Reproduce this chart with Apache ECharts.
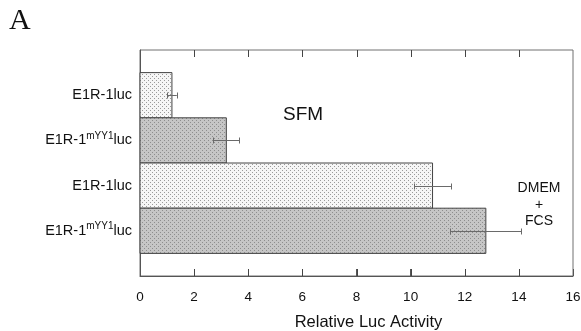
<!DOCTYPE html>
<html>
<head>
<meta charset="utf-8">
<script src="https://cdn.jsdelivr.net/npm/echarts@6/dist/echarts.min.js"></script>
<style>
  html, body { margin: 0; padding: 0; background: #fff; }
  #chart { width: 581px; height: 331px; }
</style>
</head>
<body>
<div id="chart"></div>
<script>
// data (top row first)
var constructs = ['E1R-1luc', 'E1R-1|mYY1|luc', 'E1R-1luc', 'E1R-1|mYY1|luc'];
var activity = [1.18, 3.19, 10.81, 12.78];
var errors = [0.18, 0.48, 0.68, 1.31];
var ticks = [0, 2, 4, 6, 8, 10, 12, 14, 16];

// stipple fill patterns
function stipple(bg, dot, step) {
  var c = document.createElement('canvas');
  c.width = step * 2; c.height = step * 2;
  var g = c.getContext('2d');
  g.fillStyle = bg; g.fillRect(0, 0, c.width, c.height);
  g.fillStyle = dot;
  g.fillRect(0, 0, 1, 1);
  g.fillRect(step, step, 1, 1);
  return c;
}
var lightFill = { image: stipple('#f6f6f6', '#9a9a9a', 2), repeat: 'repeat' };
var darkFill = { image: stipple('#c6c6c6', '#8e8e8e', 2), repeat: 'repeat' };

var chart = echarts.init(document.getElementById('chart'));
var font = 'Liberation Sans, Arial, sans-serif';

// rows sit at y = 3..0 (top to bottom) on a value axis running -1..4
var nRows = constructs.length;
var yMin = -1, yMax = 4;
function rowY(i) { return nRows - 1 - i; }
var barData = activity.map(function (v, i) { return [v, rowY(i), i]; });
var errData = activity.map(function (v, i) { return [v - errors[i], v + errors[i], rowY(i)]; });
var tickData = ticks.slice(1, -1).map(function (t) { return [t, yMin]; });

// snap to pixel centres so 1px lines stay crisp
function px(v) { return Math.round(v) + 0.5; }

var option = {
  animation: false,
  textStyle: { fontFamily: font },
  grid: {
    left: 140, right: 8, top: 50, height: 226, outerBoundsMode: 'none',
    show: true, borderColor: '#707070', borderWidth: 1, backgroundColor: 'transparent'
  },
  xAxis: {
    type: 'value', position: 'bottom',
    min: ticks[0], max: ticks[ticks.length - 1], interval: 2,
    axisLine: { show: true, onZero: false, lineStyle: { color: '#555', width: 1 } },
    axisTick: { show: true, inside: true, length: 7, lineStyle: { color: '#555', width: 1 } },
    axisLabel: { color: '#111', fontSize: 13.5, margin: 14 },
    splitLine: { show: false },
    name: 'Relative Luc Activity', nameLocation: 'middle', nameGap: 38,
    nameTextStyle: { color: '#111', fontSize: 16.5, padding: [0, 0, 0, 24] }
  },
  yAxis: {
    type: 'value', min: yMin, max: yMax, interval: 1,
    axisLine: { show: true, onZero: false, lineStyle: { color: '#555' } },
    axisTick: { show: false }, splitLine: { show: false },
    axisLabel: {
      margin: 8, fontSize: 14.5, color: '#111',
      formatter: function (v) {
        var name = constructs[nRows - 1 - v];
        if (name === undefined) return '';
        var p = name.split('|');
        if (p.length === 1) return '{b|' + p[0] + '}';
        return '{b|' + p[0] + '}{s|' + p[1] + '}{b|' + p[2] + '}';
      },
      rich: {
        b: { fontSize: 14.5, color: '#111', fontFamily: font },
        s: { fontSize: 10, color: '#111', fontFamily: font, verticalAlign: 'top', padding: [0, 0, 9, 0] }
      }
    }
  },
  series: [
    {
      // bars
      type: 'custom',
      data: barData,
      encode: { x: 0, y: 1 },
      renderItem: function (params, api) {
        var y = api.value(1);
        var p0 = api.coord([0, y + 0.5]);
        var p1 = api.coord([api.value(0), y - 0.5]);
        return {
          type: 'rect',
          shape: { x: p0[0], y: p0[1], width: p1[0] - p0[0], height: p1[1] - p0[1] },
          style: { fill: api.value(2) % 2 === 0 ? lightFill : darkFill, stroke: '#444', lineWidth: 1 }
        };
      }
    },
    {
      // error bars
      type: 'custom',
      data: errData,
      encode: { x: [0, 1], y: 2 },
      renderItem: function (params, api) {
        var a = api.coord([api.value(0), api.value(2)]);
        var b = api.coord([api.value(1), api.value(2)]);
        var y = px(a[1]), h = 3;
        var st = { stroke: '#6a6a6a', lineWidth: 1 };
        return {
          type: 'group',
          children: [
            { type: 'line', shape: { x1: a[0], y1: y, x2: b[0], y2: y }, style: st },
            { type: 'line', shape: { x1: px(a[0]), y1: y - h, x2: px(a[0]), y2: y + h }, style: st },
            { type: 'line', shape: { x1: px(b[0]), y1: y - h, x2: px(b[0]), y2: y + h }, style: st }
          ]
        };
      },
      z: 5
    },
    {
      // inward tick marks on the bottom and top edges of the frame
      type: 'custom', silent: true,
      data: tickData,
      encode: { x: 0, y: 1 },
      renderItem: function (params, api) {
        var lo = api.coord([api.value(0), yMin]);
        var hi = api.coord([api.value(0), yMax]);
        var x = px(lo[0]);
        var st = { stroke: '#444', lineWidth: 1 };
        return {
          type: 'group',
          children: [
            { type: 'line', shape: { x1: x, y1: lo[1], x2: x, y2: lo[1] - 7 }, style: st },
            { type: 'line', shape: { x1: x, y1: hi[1], x2: x, y2: hi[1] + 7 }, style: st }
          ]
        };
      },
      z: 6
    }
  ],
  graphic: [
    { type: 'text', x: 9, y: 6, style: { text: 'A', fontSize: 30, fontFamily: 'Liberation Serif, Times New Roman, serif', fill: '#111' } },
    { type: 'text', x: 283, y: 105, style: { text: 'SFM', fontSize: 19, fontFamily: font, fill: '#111' } },
    { type: 'text', x: 539, y: 180, style: { text: 'DMEM\n+\nFCS', fontSize: 14, lineHeight: 16.5, align: 'center', fontFamily: font, fill: '#111' } }
  ]
};

chart.setOption(option);
window.onresize = function () { chart.resize(); };
</script>
</body>
</html>
